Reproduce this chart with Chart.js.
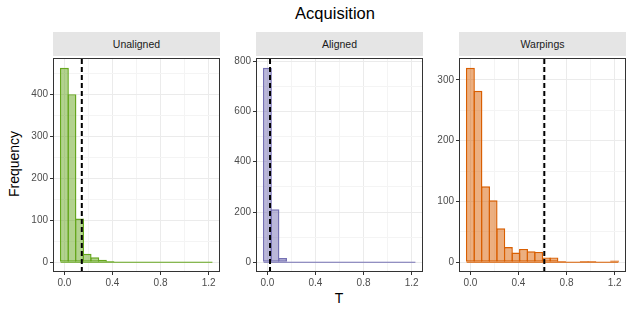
<!DOCTYPE html>
<html>
<head>
<meta charset="utf-8">
<script src="https://cdn.jsdelivr.net/npm/chart.js@4/dist/chart.umd.min.js"></script>
<style>
  html, body { margin: 0; padding: 0; background: #fff; }
  body { width: 634px; height: 317px; position: relative; overflow: hidden;
         font-family: "Liberation Sans", Arial, sans-serif; }
  canvas { position: absolute; top: 50px; }
  .strip { position: absolute; top: 32px; height: 24px; width: 167px; background: #E5E5E5;
           color: #1A1A1A; font-size: 10.5px; line-height: 24px; text-align: center; }
  .lbl { position: absolute; color: #000000; white-space: nowrap; }
</style>
</head>
<body>
<div class="lbl" style="left:335px; top:4px; font-size:16.5px; transform:translateX(-50%);">Acquisition</div>
<div class="lbl" style="left:14px; top:164px; font-size:14px; transform:translate(-50%,-50%) rotate(-90deg);">Frequency</div>
<div class="lbl" style="left:339px; top:298px; font-size:14px; transform:translate(-50%,-50%);">T</div>

<div class="strip" style="left:53px;">Unaligned</div>
<div class="strip" style="left:256px;">Aligned</div>
<div class="strip" style="left:459px;">Warpings</div>

<canvas id="c1" width="212" height="245" style="left:13px;"></canvas>
<canvas id="c2" width="212" height="245" style="left:216px;"></canvas>
<canvas id="c3" width="212" height="245" style="left:419px;"></canvas>

<script>
// histogram bin centres (shared by all facets)
var binCenters = [0, 0.063, 0.126, 0.189, 0.253, 0.316, 0.379, 0.442, 0.505, 0.568,
                  0.632, 0.695, 0.758, 0.821, 0.884, 0.947, 1.011, 1.074, 1.137, 1.2];

var unaligned = [463, 400, 104, 20, 12, 6, 3, 0, 0, 0, 0, 0, 0, 0, 0, 0, 0, 0, 0, 0];
var aligned   = [774, 211, 17, 0, 0, 0, 0, 0, 0, 0, 0, 0, 0, 0, 0, 0, 0, 0, 0, 0];
var warpings  = [320, 282, 125, 102, 56, 25, 16, 22, 18, 17, 8, 8, 2, 0, 1, 2, 2, 0, 0, 3];

// dashed reference lines
var thresholds = { Unaligned: 0.145, Aligned: 0.022, Warpings: 0.615 };

var xTicks = [0, 0.4, 0.8, 1.2];
var xMinor = [0.2, 0.6, 1.0];
var yTicksUnaligned = [0, 100, 200, 300, 400];
var yMinorUnaligned = [50, 150, 250, 350, 450];
var yTicksAligned = [0, 200, 400, 600, 800];
var yMinorAligned = [100, 300, 500, 700];
var yTicksWarpings = [0, 100, 200, 300];
var yMinorWarpings = [50, 150, 250];

var colors = {
  Unaligned: ['#66A61E', 'rgba(102,166,30,0.5)'],
  Aligned:   ['#7570B3', 'rgba(117,112,179,0.5)'],
  Warpings:  ['#D95F02', 'rgba(217,95,2,0.5)']
};

var FONT = "'Liberation Sans', Arial, sans-serif";

function tickList(major, minor) {
  var t = major.map(function (v) { return { value: v, major: true }; })
    .concat(minor.map(function (v) { return { value: v, major: false }; }));
  t.sort(function (a, b) { return a.value - b.value; });
  return t;
}

var panelBorder = {
  id: 'panelBorder',
  afterDatasetsDraw: function (chart) {
    var a = chart.chartArea, ctx = chart.ctx;
    ctx.save();
    ctx.strokeStyle = '#333333';
    ctx.lineWidth = 1;
    ctx.strokeRect(a.left + 0.5, a.top + 0.5, a.right - a.left - 1, a.bottom - a.top - 1);
    ctx.restore();
  }
};

function facet(canvasId, name, counts, yMajor, yMinor) {
  var col = colors[name];
  var top = Math.max.apply(null, counts);
  var yMin = -0.05 * top, yMax = 1.05 * top;
  var half = (binCenters[1] - binCenters[0]) / 2;
  var lo = binCenters[0] - half, hi = binCenters[binCenters.length - 1] + half;
  var span = hi - lo;

  var bars = binCenters.map(function (x, i) { return { x: x, y: counts[i] }; });

  var gridStyle = {
    color: function (c) { return c.tick && c.tick.major ? '#EBEBEB' : '#F4F4F4'; },
    lineWidth: 1,
    offset: false,
    tickLength: 3,
    tickColor: function (c) { return c.tick && c.tick.major ? '#333333' : 'rgba(0,0,0,0)'; }
  };

  new Chart(document.getElementById(canvasId).getContext('2d'), {
    type: 'bar',
    data: {
      datasets: [
        {
          label: name,
          data: bars,
          backgroundColor: col[1],
          borderColor: col[0],
          borderWidth: 1.4,
          borderSkipped: false,
          // widen slightly so neighbouring outlines overlap into one line
          barPercentage: 1.18,
          categoryPercentage: 1,
          order: 2
        },
        {
          type: 'line',
          data: [{ x: lo, y: 0 }, { x: hi, y: 0 }],
          borderColor: col[0],
          borderWidth: 1.2,
          pointRadius: 0,
          fill: false,
          order: 1
        },
        {
          type: 'line',
          data: [{ x: thresholds[name], y: yMin }, { x: thresholds[name], y: yMax }],
          borderColor: '#000000',
          borderWidth: 2,
          borderDash: [5, 3],
          pointRadius: 0,
          fill: false,
          order: 0
        }
      ]
    },
    options: {
      responsive: false,
      animation: false,
      devicePixelRatio: 1,
      layout: { padding: { top: 6, right: 5, left: 0, bottom: 0 } },
      plugins: { legend: { display: false }, tooltip: { enabled: false } },
      scales: {
        x: {
          type: 'linear',
          offset: false,
          min: lo - 0.05 * span,
          max: hi + 0.05 * span,
          afterBuildTicks: function (s) { s.ticks = tickList(xTicks, xMinor); },
          afterFit: function (s) { s.height = 23; },
          border: { display: false },
          grid: gridStyle,
          ticks: {
            autoSkip: false,
            maxRotation: 0,
            padding: 2,
            color: '#4D4D4D',
            font: { family: FONT, size: 10 },
            callback: function (v, i, t) { return t[i].major ? v.toFixed(1) : ''; }
          }
        },
        y: {
          min: yMin,
          max: yMax,
          afterBuildTicks: function (s) { s.ticks = tickList(yMajor, yMinor); },
          afterFit: function (s) { s.width = 40; },
          border: { display: false },
          grid: gridStyle,
          ticks: {
            autoSkip: false,
            padding: 2,
            color: '#4D4D4D',
            font: { family: FONT, size: 10 },
            callback: function (v, i, t) { return t[i].major ? String(v) : ''; }
          }
        }
      }
    },
    plugins: [panelBorder]
  });
}

facet('c1', 'Unaligned', unaligned, yTicksUnaligned, yMinorUnaligned);
facet('c2', 'Aligned', aligned, yTicksAligned, yMinorAligned);
facet('c3', 'Warpings', warpings, yTicksWarpings, yMinorWarpings);
</script>
</body>
</html>
